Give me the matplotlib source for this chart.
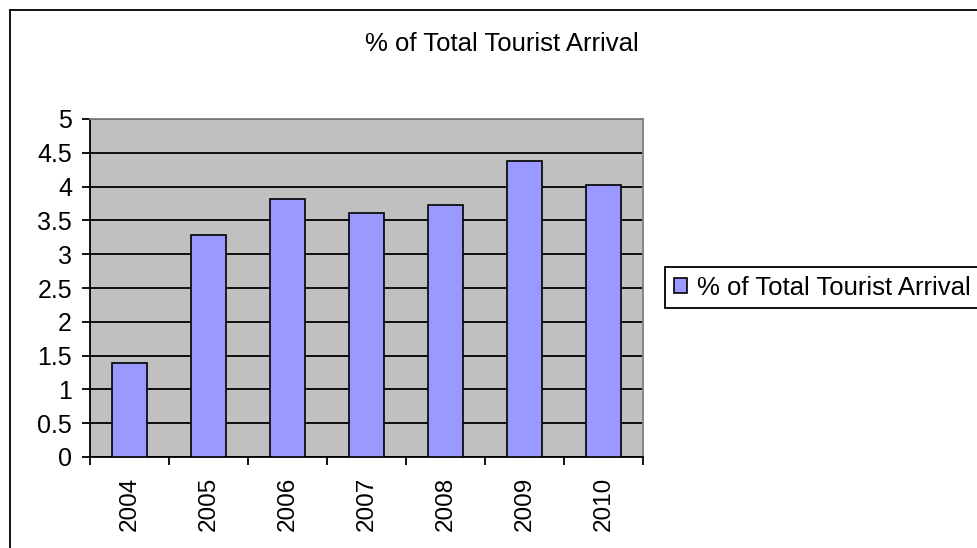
import matplotlib
matplotlib.use("Agg")
import matplotlib.pyplot as plt
from matplotlib.lines import Line2D
import numpy as np

years = ["2004", "2005", "2006", "2007", "2008", "2009", "2010"]
share = [1.39, 3.28, 3.82, 3.61, 3.73, 4.38, 4.02]
series_name = "% of Total Tourist Arrival"
y_ticks = [0, 0.5, 1, 1.5, 2, 2.5, 3, 3.5, 4, 4.5, 5]

plt.rcParams["font.family"] = ["Liberation Sans", "DejaVu Sans"]

W, H = 978, 548
fig = plt.figure(figsize=(W / 100, H / 100), dpi=100)

# chart area frame (open on the right and bottom)
fig.add_artist(Line2D([10 / W, 10 / W], [0, 1 - 9.5 / H], color="black", lw=1.3,
                      transform=fig.transFigure))
fig.add_artist(Line2D([10 / W, 1], [1 - 9.5 / H, 1 - 9.5 / H], color="black", lw=1.3,
                      transform=fig.transFigure))

ax = fig.add_axes([90 / W, (H - 457) / H, 553 / W, 338 / H])
ax.set_facecolor("#C0C0C0")

x = np.arange(len(years))
bars = ax.bar(x, share, width=0.435, color="#9999FF", edgecolor="black",
              linewidth=1.2, zorder=3, label=series_name)

ax.set_xlim(-0.5, len(years) - 0.5)
ax.set_ylim(0, 5)
ax.set_yticks(y_ticks)
ax.set_yticklabels([f"{v:g}" for v in y_ticks], fontsize=18)
ax.yaxis.grid(True, color="black", linewidth=1.3, zorder=1)
ax.set_axisbelow(True)

ax.set_xticks(x)
ax.set_xticklabels(years, rotation=90, fontsize=17.5)
ax.set_xticks(np.arange(len(years) + 1) - 0.5, minor=True)
ax.tick_params(axis="x", which="major", length=0, pad=14)
ax.tick_params(axis="x", which="minor", length=6, width=1.3, direction="out")
ax.tick_params(axis="y", which="major", length=6, width=1.3, direction="out", pad=7)

for side in ("left", "bottom"):
    ax.spines[side].set_color("black")
    ax.spines[side].set_linewidth(1.3)
for side in ("top", "right"):
    ax.spines[side].set_color("#808080")
    ax.spines[side].set_linewidth(1.3)

fig.text(502 / W, 1 - 51 / H, series_name, ha="center", va="baseline", fontsize=18.5)

leg = fig.legend(handles=[bars], labels=[series_name], loc="upper left",
                 bbox_to_anchor=(665 / W, 1 - 267 / H), borderaxespad=0,
                 fontsize=18.5, fancybox=False, edgecolor="black", framealpha=1,
                 handlelength=0.5, handleheight=0.5, handletextpad=0.39,
                 borderpad=0.34)
leg.get_frame().set_linewidth(1.3)

fig.savefig("out.png", dpi=100)
